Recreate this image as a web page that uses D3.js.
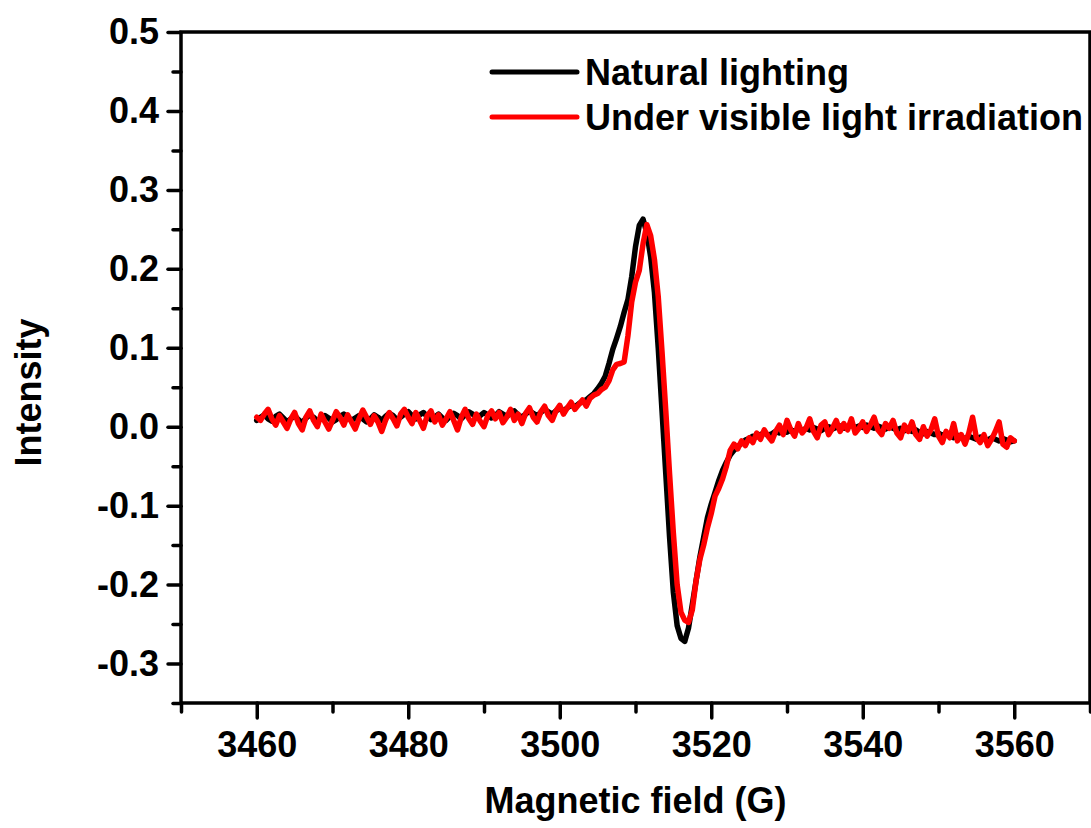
<!DOCTYPE html>
<html>
<head>
<meta charset="utf-8">
<script src="https://cdn.jsdelivr.net/npm/d3@7"></script>
<style>
  html, body { margin: 0; padding: 0; background: #fff; }
  svg { display: block; }
  text { font-family: Arial, "Liberation Sans", sans-serif; font-weight: bold; fill: #000; }
</style>
</head>
<body>
<div id="chart"></div>
<script>
// Magnetic field sampled every 0.5 G from 3460 to 3560 G
const fieldStart = 3460, fieldStep = 0.5;

// Intensity, Natural lighting
const naturalLighting = [
  0.008, 0.012, 0.015, 0.010, 0.007, 0.013, 0.016, 0.011, 0.006, 0.010,
  0.014, 0.009, 0.005, 0.011, 0.015, 0.012, 0.007, 0.010, 0.014, 0.011,
  0.006, 0.009, 0.013, 0.016, 0.012, 0.008, 0.011, 0.014, 0.010, 0.006,
  0.010, 0.015, 0.012, 0.008, 0.013, 0.017, 0.014, 0.009, 0.012, 0.016,
  0.019, 0.014, 0.010, 0.015, 0.018, 0.013, 0.009, 0.012, 0.016, 0.011,
  0.008, 0.013, 0.017, 0.014, 0.010, 0.015, 0.019, 0.016, 0.012, 0.014,
  0.018, 0.015, 0.011, 0.014, 0.019, 0.016, 0.013, 0.017, 0.020, 0.015,
  0.012, 0.016, 0.020, 0.017, 0.014, 0.018, 0.022, 0.019, 0.016, 0.020,
  0.023, 0.020, 0.024, 0.027, 0.025, 0.029, 0.032, 0.034, 0.038, 0.042,
  0.048, 0.055, 0.064, 0.080, 0.098, 0.112, 0.127, 0.145, 0.161, 0.190,
  0.228, 0.255, 0.263, 0.245, 0.215, 0.170, 0.100, 0.020, -0.060, -0.140,
  -0.210, -0.252, -0.268, -0.272, -0.255, -0.225, -0.195, -0.165, -0.140, -0.115,
  -0.098, -0.083, -0.068, -0.055, -0.045, -0.036, -0.030, -0.025, -0.021, -0.017,
  -0.015, -0.012, -0.013, -0.010, -0.008, -0.011, -0.009, -0.006, -0.008, -0.005,
  -0.007, -0.004, -0.006, -0.003, -0.005, -0.002, -0.004, -0.001, -0.003, -0.005,
  -0.002, 0.000, -0.003, -0.001, 0.001, -0.002, 0.000, 0.002, -0.001, 0.001,
  -0.001, 0.002, 0.000, -0.002, 0.001, -0.001, -0.003, 0.000, -0.002, -0.004,
  -0.002, -0.005, -0.003, -0.006, -0.004, -0.007, -0.009, -0.006, -0.008, -0.010,
  -0.008, -0.011, -0.009, -0.012, -0.014, -0.011, -0.013, -0.015, -0.012, -0.014,
  -0.016, -0.013, -0.015, -0.017, -0.014, -0.016, -0.018, -0.015, -0.017, -0.019,
  -0.018
];

// Intensity, Under visible light irradiation
const visibleLight = [
  0.012, 0.008, 0.016, 0.022, 0.010, 0.002, 0.014, 0.006, -0.002, 0.010,
  0.018, 0.004, -0.004, 0.012, 0.020, 0.008, 0.000, 0.016, 0.006, -0.003,
  0.008, 0.019, 0.012, 0.002, 0.015, 0.006, -0.003, 0.010, 0.021, 0.012,
  0.003, 0.014, 0.006, -0.006, 0.008, 0.018, 0.010, 0.001, 0.016, 0.022,
  0.012, 0.004, 0.018, 0.008, -0.002, 0.014, 0.020, 0.006, 0.015, 0.002,
  0.010, 0.019, 0.008, -0.004, 0.012, 0.022, 0.010, 0.003, 0.016, 0.007,
  0.000, 0.014, 0.020, 0.010, 0.018, 0.005, 0.012, 0.022, 0.008, 0.016,
  0.004, 0.017, 0.024, 0.012, 0.006, 0.019, 0.026, 0.014, 0.008, 0.020,
  0.027, 0.016, 0.024, 0.031, 0.022, 0.028, 0.034, 0.026, 0.036, 0.040,
  0.042, 0.047, 0.050, 0.058, 0.072, 0.079, 0.080, 0.082, 0.115, 0.158,
  0.183, 0.198, 0.232, 0.256, 0.242, 0.212, 0.165, 0.095, 0.020, -0.060,
  -0.135, -0.200, -0.235, -0.245, -0.248, -0.232, -0.195, -0.168, -0.150, -0.128,
  -0.110, -0.088, -0.078, -0.066, -0.050, -0.030, -0.022, -0.028, -0.018, -0.024,
  -0.014, -0.020, -0.008, -0.016, -0.004, -0.012, -0.018, -0.006, 0.002, -0.010,
  0.008, -0.004, -0.012, 0.004, -0.008, -0.002, 0.010, -0.006, -0.014, 0.002,
  0.006, -0.010, -0.002, 0.008, -0.006, 0.004, -0.004, 0.010, -0.008, -0.002,
  0.006, -0.006, 0.002, 0.012, -0.004, -0.010, 0.004, -0.002, 0.008, -0.008,
  -0.014, 0.002, -0.006, 0.006, -0.010, -0.016, 0.000, -0.012, -0.004, 0.010,
  -0.012, -0.020, -0.006, -0.014, 0.004, -0.018, -0.010, -0.022, -0.008, 0.012,
  -0.014, -0.020, -0.010, -0.024, -0.016, -0.006, 0.006, -0.022, -0.026, -0.014,
  -0.018
];

const xTicks = [3460, 3480, 3500, 3520, 3540, 3560];
const xMinorTicks = [3450, 3470, 3490, 3510, 3530, 3550, 3570];
const yTicks = [-0.3, -0.2, -0.1, 0.0, 0.1, 0.2, 0.3, 0.4, 0.5];
const yMinorTicks = [-0.35, -0.25, -0.15, -0.05, 0.05, 0.15, 0.25, 0.35, 0.45];

const seriesNames = ["Natural lighting", "Under visible light irradiation"];
const seriesColors = ["#000000", "#ff0000"];

(() => {
    const width = 1091, height = 828;
    const margin = { top: 32, right: 1, bottom: 125, left: 181 };
    const fontSize = "36px";

    const svg = d3.select("#chart").append("svg")
        .attr("width", width)
        .attr("height", height);

    const x = d3.scaleLinear()
        .domain([3450, 3570])
        .range([margin.left, width - margin.right]);

    const y = d3.scaleLinear()
        .domain([-0.35, 0.5])
        .range([height - margin.bottom, margin.top]);

    const fields = naturalLighting.map((_, i) => fieldStart + i * fieldStep);
    const series = [naturalLighting, visibleLight].map((vals, k) => ({
        name: seriesNames[k],
        color: seriesColors[k],
        points: vals.map((v, i) => [fields[i], v])
    }));

    // curves
    const line = d3.line().x(d => x(d[0])).y(d => y(d[1]));
    svg.selectAll(".curve")
        .data(series)
        .enter()
        .append("path")
        .attr("class", "curve")
        .attr("d", d => line(d.points))
        .attr("fill", "none")
        .attr("stroke", d => d.color)
        .attr("stroke-width", 5.5)
        .attr("stroke-linejoin", "round")
        .attr("stroke-linecap", "round");

    // frame
    svg.append("rect")
        .attr("x", margin.left)
        .attr("y", margin.top)
        .attr("width", width - margin.right - margin.left)
        .attr("height", height - margin.bottom - margin.top)
        .attr("fill", "none")
        .attr("stroke", "#000")
        .attr("stroke-width", 3.5);

    // bottom axis
    const xAxis = svg.append("g")
        .attr("transform", `translate(0,${height - margin.bottom})`);
    xAxis.append("g")
        .call(d3.axisBottom(x).tickValues(xMinorTicks).tickSize(9).tickFormat(""))
        .call(g => g.select(".domain").remove());
    xAxis.append("g")
        .call(d3.axisBottom(x).tickValues(xTicks).tickSize(15).tickPadding(13).tickFormat(d3.format("d")))
        .call(g => g.select(".domain").remove())
        .call(g => g.selectAll("text").style("font-size", fontSize));
    xAxis.selectAll("line").attr("stroke-width", 3.5).attr("stroke-linecap", "round");

    // left axis
    const yAxis = svg.append("g")
        .attr("transform", `translate(${margin.left},0)`);
    yAxis.append("g")
        .call(d3.axisLeft(y).tickValues(yMinorTicks).tickSize(8).tickFormat(""))
        .call(g => g.select(".domain").remove());
    yAxis.append("g")
        .call(d3.axisLeft(y).tickValues(yTicks).tickSize(13).tickPadding(9).tickFormat(d3.format(".1f")))
        .call(g => g.select(".domain").remove())
        .call(g => g.selectAll("text").style("font-size", fontSize));
    yAxis.selectAll("line").attr("stroke-width", 3.5).attr("stroke-linecap", "round");

    svg.selectAll(".tick text").attr("font-family", null).attr("fill", "#000");
    svg.selectAll(".tick text").text(function() { return this.textContent.replace("\u2212", "-"); });

    // axis titles
    svg.append("text")
        .attr("x", (margin.left + width - margin.right) / 2)
        .attr("y", 813)
        .attr("text-anchor", "middle")
        .style("font-size", fontSize)
        .text("Magnetic field (G)");

    svg.append("text")
        .attr("transform", `translate(41,${(margin.top + height - margin.bottom) / 2 + 25}) rotate(-90)`)
        .attr("text-anchor", "middle")
        .style("font-size", fontSize)
        .text("Intensity");

    // legend
    const legend = svg.append("g").attr("transform", "translate(492,72)");
    const item = legend.selectAll(".item")
        .data(series)
        .enter()
        .append("g")
        .attr("class", "item")
        .attr("transform", (d, i) => `translate(0,${i * 45})`);
    item.append("line")
        .attr("x1", 0).attr("x2", 85)
        .attr("stroke", d => d.color)
        .attr("stroke-width", 5)
        .attr("stroke-linecap", "round");
    item.append("text")
        .attr("x", 93)
        .attr("y", 12.5)
        .style("font-size", fontSize)
        .text(d => d.name);
})();
</script>
</body>
</html>
